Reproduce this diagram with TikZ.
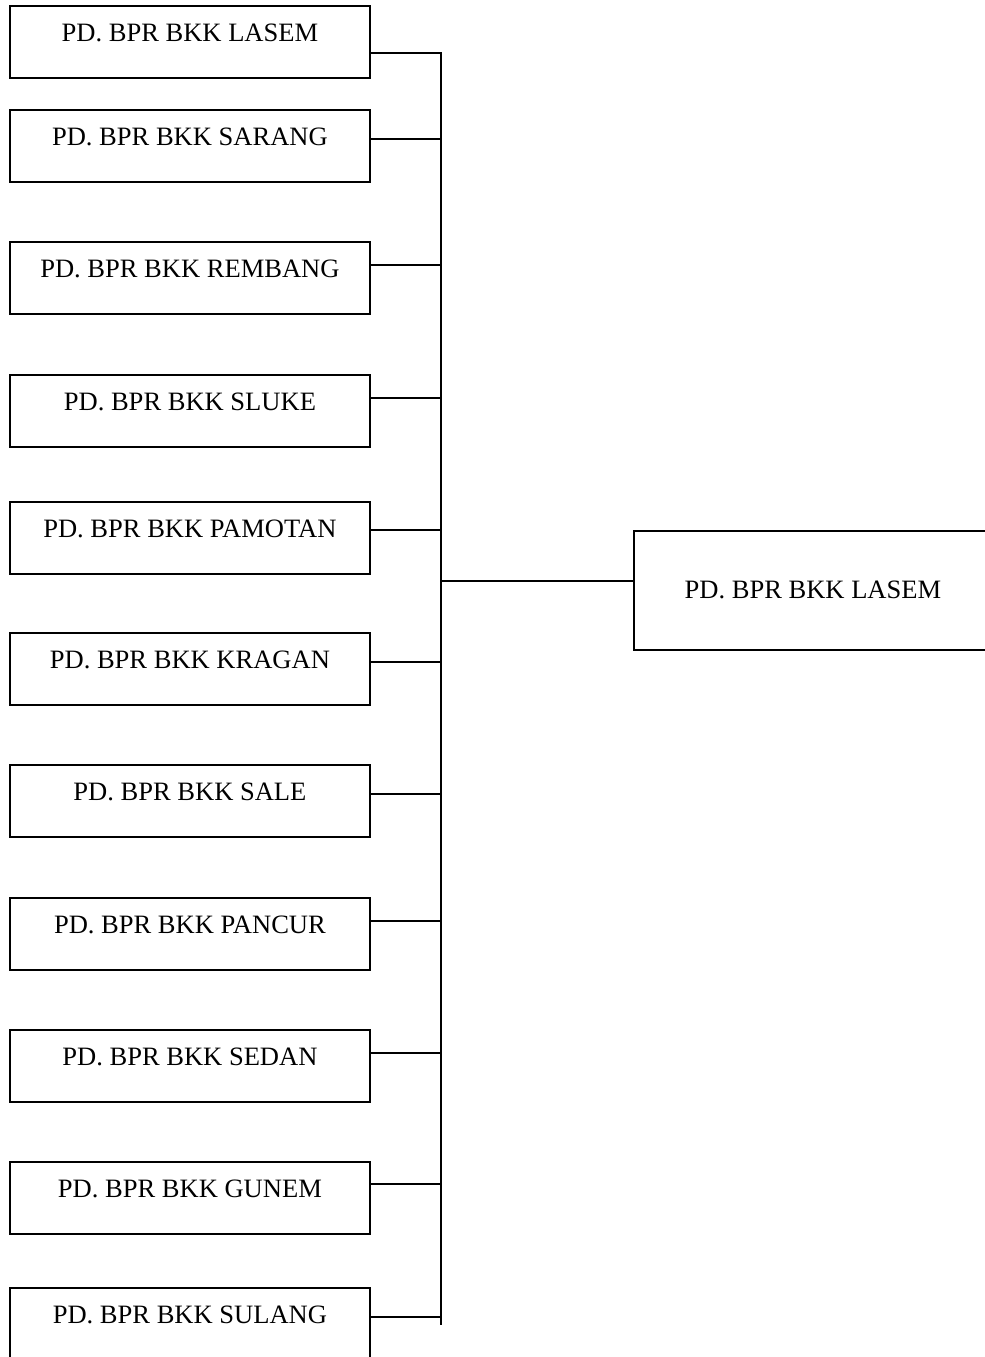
\documentclass[tikz,border=0pt]{standalone}
\usepackage{fontspec}
\setmainfont{Liberation Serif}
\usetikzlibrary{calc}
\definecolor{ink}{HTML}{000000}

\begin{document}
\begin{tikzpicture}[
  % one unit = one pixel of the scanned chart
  x=0.75pt, y=-0.75pt,
  font=\fontsize{19.9}{24}\selectfont,
  unit/.style={
    draw=ink, line width=1.4pt, anchor=north west, inner sep=0pt,
    minimum width=270pt, text height=27pt, text depth=27pt, text=ink,
  },
  head/.style={
    draw=ink, line width=1.4pt, anchor=north west, inner sep=0pt,
    minimum width=268.5pt, text height=51pt, text depth=38.25pt, text=ink,
  },
  link/.style={draw=ink, line width=1.4pt},
]
  \clip (0,0) rectangle (985,1357);

  % --- branch offices, top to bottom ---
  \foreach \i/\top/\cy/\name in {
      1/5/53/LASEM,
      2/109/139/SARANG,
      3/241/265/REMBANG,
      4/374/398/SLUKE,
      5/501/530/PAMOTAN,
      6/632/662/KRAGAN,
      7/764/794/SALE,
      8/897/921/PANCUR,
      9/1029/1053/SEDAN,
      10/1161/1184/GUNEM,
      11/1287/1317/SULANG%
  }{
    \node[unit] (n\i) at (9,\top) {PD. BPR BKK \name};
    \coordinate (b\i) at (441,\cy);
  }

  % --- head office ---
  \node[head] (main) at (633,530) {PD. BPR BKK LASEM};

  % --- bus line and stubs ---
  \coordinate (busbot) at (441,1325);
  \coordinate (hub) at (441,581);
  \draw[link] (b1 -| n1.east) -- (b1) -- (busbot);
  \foreach \i in {2,...,11}{
    \draw[link] (b\i -| n\i.east) -- (b\i);
  }
  \draw[link] (hub) -- (hub -| main.west);
\end{tikzpicture}
\end{document}
